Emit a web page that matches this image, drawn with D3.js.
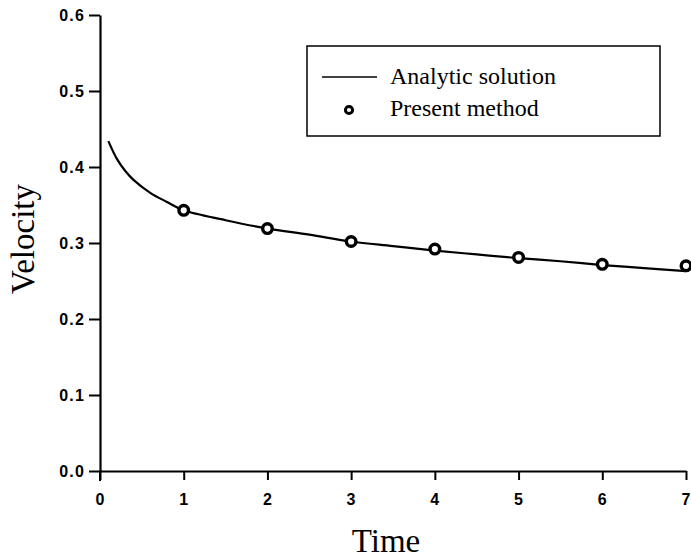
<!DOCTYPE html>
<html>
<head>
<meta charset="utf-8">
<script src="https://cdn.jsdelivr.net/npm/d3@7"></script>
<style>
  html, body { margin: 0; padding: 0; background: #fff; }
  svg { display: block; }
  .tick text { font-family: "Liberation Sans", Arial, sans-serif; font-weight: bold; font-size: 16px; letter-spacing: 1.2px; fill: #000; }
  .serif { font-family: "Liberation Serif", "Times New Roman", serif; fill: #000; }
</style>
</head>
<body>
<svg id="chart" width="691" height="560"></svg>
<script>
// Analytic solution sampled along time
const curveTime = [0.1, 0.2, 0.3, 0.4, 0.6, 0.8, 1.0, 1.5, 2.0, 2.5, 3.0, 3.5, 4.0, 4.5, 5.0, 5.5, 6.0, 6.5, 7.0];
const curveVelocity = [0.434, 0.411, 0.395, 0.383, 0.366, 0.354, 0.343, 0.330, 0.319, 0.311, 0.302, 0.296, 0.290, 0.285, 0.280, 0.276, 0.271, 0.267, 0.263];

// Present method results
const pointTime = [1, 2, 3, 4, 5, 6, 7];
const pointVelocity = [0.343, 0.319, 0.302, 0.292, 0.281, 0.272, 0.270];

// Axis ticks
const xTicks = [0, 1, 2, 3, 4, 5, 6, 7];
const yTicks = [0.0, 0.1, 0.2, 0.3, 0.4, 0.5, 0.6];

const legendLabels = ["Analytic solution", "Present method"];

const svg = d3.select("#chart");

const x = d3.scaleLinear().domain([0, 7]).range([100, 686]);
const y = d3.scaleLinear().domain([0, 0.6]).range([471, 15]);

// Left axis
const yAxis = svg.append("g")
  .attr("transform", `translate(${x(0)},0)`)
  .call(d3.axisLeft(y).tickValues(yTicks).tickFormat(d3.format(".1f")).tickSize(11).tickSizeOuter(0).tickPadding(4));
yAxis.select(".domain").attr("stroke", "#000").attr("stroke-width", 2.2);
yAxis.selectAll(".tick line").attr("stroke", "#000").attr("stroke-width", 2);
yAxis.selectAll(".tick text").attr("dy", "0.36em");

// Bottom axis
const xAxis = svg.append("g")
  .attr("transform", `translate(0,${y(0)})`)
  .call(d3.axisBottom(x).tickValues(xTicks).tickFormat(d3.format("d")).tickSize(9).tickSizeOuter(0).tickPadding(14));
xAxis.select(".domain").attr("stroke", "#000").attr("stroke-width", 2.2);
xAxis.selectAll(".tick line").attr("stroke", "#000").attr("stroke-width", 2);

// Extend the vertical axis slightly below the origin
svg.append("line")
  .attr("x1", x(0)).attr("x2", x(0))
  .attr("y1", y(0)).attr("y2", y(0) + 10)
  .attr("stroke", "#000").attr("stroke-width", 2);

// Analytic curve
const line = d3.line()
  .x((d, i) => x(curveTime[i]))
  .y(d => y(d))
  .curve(d3.curveCatmullRom.alpha(0.5));

svg.append("path")
  .datum(curveVelocity)
  .attr("d", line)
  .attr("fill", "none")
  .attr("stroke", "#000")
  .attr("stroke-width", 2.2);

// Computed points
svg.append("g").selectAll("circle")
  .data(pointVelocity)
  .join("circle")
  .attr("cx", (d, i) => x(pointTime[i]))
  .attr("cy", d => y(d))
  .attr("r", 4.8)
  .attr("fill", "#fff")
  .attr("stroke", "#000")
  .attr("stroke-width", 3.4);

// Axis titles
svg.append("text")
  .attr("class", "serif")
  .attr("x", 386).attr("y", 552)
  .attr("text-anchor", "middle")
  .attr("font-size", 33)
  .text("Time");

svg.append("text")
  .attr("class", "serif")
  .attr("transform", "translate(34,239) rotate(-90)")
  .attr("text-anchor", "middle")
  .attr("font-size", 33)
  .text("Velocity");

// Legend
const legend = svg.append("g");
legend.append("rect")
  .attr("x", 307).attr("y", 46)
  .attr("width", 353).attr("height", 90)
  .attr("fill", "#fff")
  .attr("stroke", "#000")
  .attr("stroke-width", 1.5);

legend.append("line")
  .attr("x1", 322).attr("x2", 377)
  .attr("y1", 77).attr("y2", 77)
  .attr("stroke", "#000").attr("stroke-width", 1.6);

legend.append("circle")
  .attr("cx", 349).attr("cy", 110)
  .attr("r", 3.6)
  .attr("fill", "#fff")
  .attr("stroke", "#000")
  .attr("stroke-width", 3);

legend.selectAll("text")
  .data(legendLabels)
  .join("text")
  .attr("class", "serif")
  .attr("x", 390)
  .attr("y", (d, i) => 84 + i * 32)
  .attr("font-size", 24)
  .text(d => d);
</script>
</body>
</html>
